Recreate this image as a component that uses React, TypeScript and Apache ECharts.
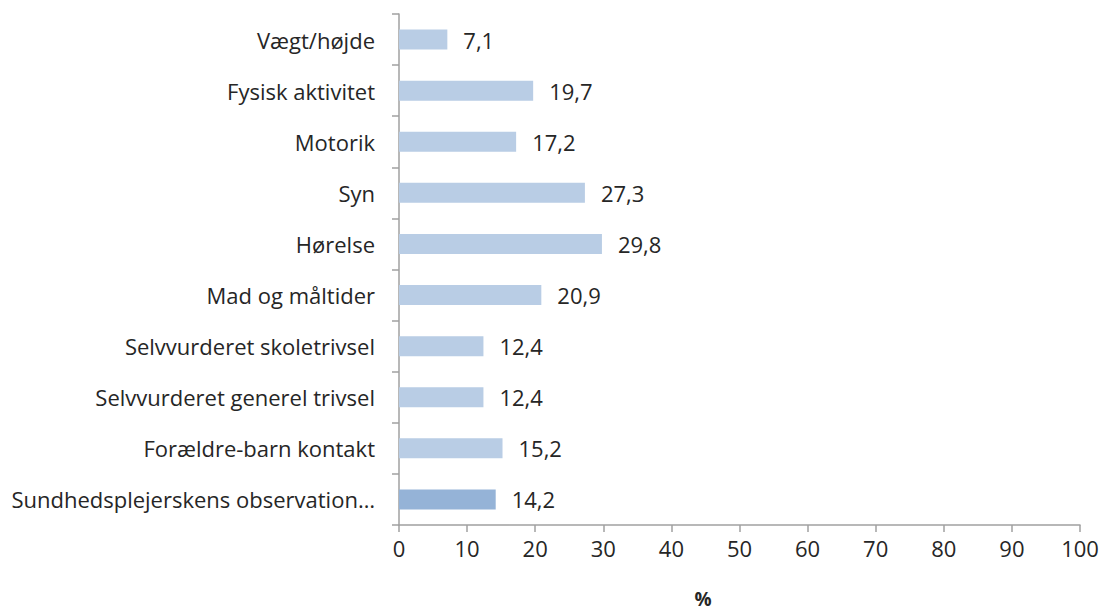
import React, { useEffect, useRef } from "react";
import * as echarts from "echarts";

const categories = [
  "Vægt/højde",
  "Fysisk aktivitet",
  "Motorik",
  "Syn",
  "Hørelse",
  "Mad og måltider",
  "Selvvurderet skoletrivsel",
  "Selvvurderet generel trivsel",
  "Forældre-barn kontakt",
  "Sundhedsplejerskens observation…",
];
const values = [7.1, 19.7, 17.2, 27.3, 29.8, 20.9, 12.4, 12.4, 15.2, 14.2];
const highlightIndex = 9;
const xTicks = [0, 10, 20, 30, 40, 50, 60, 70, 80, 90, 100];
const xAxisTitle = "%";

export default function App() {
  const ref = useRef<HTMLDivElement>(null);
  useEffect(() => {
    document.body.style.margin = "0";
    const chart = echarts.init(ref.current!, null, { renderer: "svg" });
    const font = "'Open Sans', 'Noto Sans', sans-serif";
    const cats = [...categories].reverse();
    const vals = [...values].reverse();
    const hi = categories.length - 1 - highlightIndex;
    chart.setOption({
      animation: false,
      backgroundColor: "#ffffff",
      grid: {
        left: 399,
        right: 28,
        top: 14,
        bottom: 86,
        containLabel: false,
        outerBoundsMode: "none",
      },
      graphic: [
        {
          type: "text",
          x: 703,
          y: 599,
          style: {
            text: xAxisTitle,
            fontFamily: font,
            fontSize: 19,
            lineHeight: 19,
            fontWeight: "bold",
            fill: "#262626",
            align: "center",
            verticalAlign: "middle",
          },
        },
      ],
      xAxis: {
        type: "value",
        min: xTicks[0],
        max: xTicks[xTicks.length - 1],
        interval: 10,
        axisLine: { show: true, lineStyle: { color: "#a0a0a0", width: 1.5 } },
        axisTick: { show: true, length: 7, lineStyle: { color: "#a0a0a0", width: 1.5 } },
        splitLine: { show: false },
        axisLabel: { margin: 12, fontFamily: font, fontSize: 22, color: "#262626" },
      },
      yAxis: {
        type: "category",
        data: cats,
        axisLine: { show: true, lineStyle: { color: "#a0a0a0", width: 1.5 } },
        axisTick: { show: true, length: 7, alignWithLabel: false, lineStyle: { color: "#a0a0a0", width: 1.5 } },
        axisLabel: { margin: 24, fontFamily: font, fontSize: 22, color: "#262626" },
      },
      series: [
        {
          type: "bar",
          data: vals.map((v, i) => ({
            value: v,
            itemStyle: { color: i === hi ? "#95b3d7" : "#b9cde5" },
          })),
          barWidth: 20,
          label: {
            show: true,
            position: "right",
            distance: 16,
            fontFamily: font,
            fontSize: 22,
            color: "#262626",
            formatter: (p: any) => String(p.value).replace(".", ","),
          },
        },
      ],
    });
    return () => chart.dispose();
  }, []);
  return <div ref={ref} style={{ width: 1108, height: 611 }} />;
}
